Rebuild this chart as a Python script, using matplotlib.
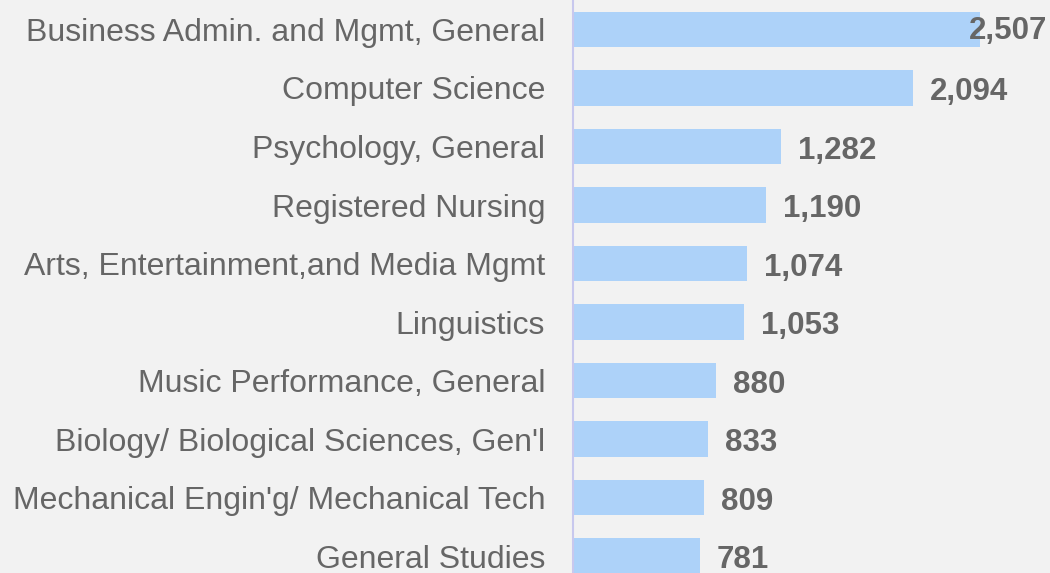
import matplotlib.pyplot as plt

# datos del gráfico
carreras = ["Business Admin. and Mgmt, General", "Computer Science", "Psychology, General",
            "Registered Nursing", "Arts, Entertainment,and Media Mgmt", "Linguistics",
            "Music Performance, General", "Biology/ Biological Sciences, Gen'l",
            "Mechanical Engin'g/ Mechanical Tech", "General Studies"]
valores = [2507, 2094, 1282, 1190, 1074, 1053, 880, 833, 809, 781]

fondo = "#F2F2F2"
gris = "#666666"

plt.rcParams['font.family'] = ['Liberation Sans', 'DejaVu Sans']

fig = plt.figure(figsize=(10.5, 5.73), dpi=100, facecolor=fondo)
ax = fig.add_axes([573 / 1050, 0, 1 - 573 / 1050, 1], facecolor=fondo)

pos = list(range(len(carreras)))
ax.barh(pos, valores, height=0.6, color="#ADD2F9")

xmax = 2938
ax.set_xlim(0, xmax)
ax.set_ylim(9.29, -0.504)

for p, v in zip(pos, valores):
    texto = f"{v:,}"
    if v > 2400:
        ax.annotate(texto, (xmax, p), xytext=(-2, -1), textcoords="offset points",
                    ha="right", va="center", fontsize=22.5, fontweight="bold", color=gris)
    else:
        ax.annotate(texto, (v, p), xytext=(12, -3), textcoords="offset points",
                    ha="left", va="center", fontsize=22.5, fontweight="bold", color=gris)

ax.set_yticks(pos)
ax.set_yticklabels(carreras, fontsize=23, color=gris)
ax.tick_params(axis="y", length=0, pad=20)
ax.set_xticks([])

for lado in ["top", "right", "bottom"]:
    ax.spines[lado].set_visible(False)
ax.spines["left"].set_color("#C8C8EE")
ax.spines["left"].set_linewidth(1.5)

plt.savefig("out.png", facecolor=fondo)
